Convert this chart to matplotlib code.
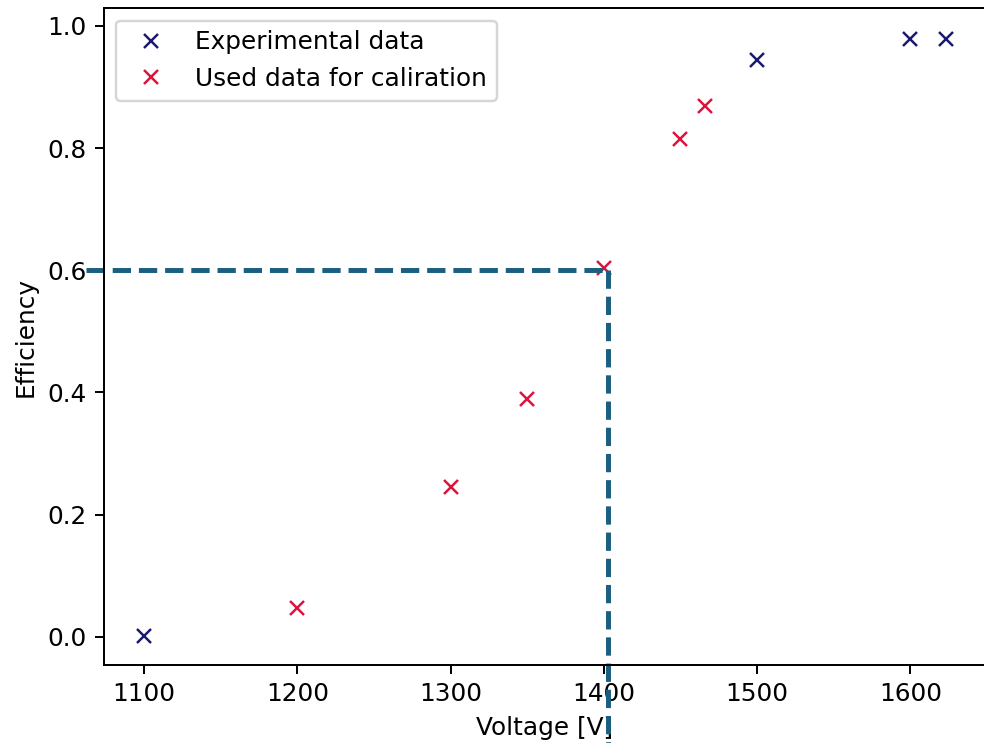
import numpy as np
import matplotlib
matplotlib.use('Agg')
import matplotlib.pyplot as plt

# experimental points (not used for calibration)
exp_voltage = [1100, 1500, 1600, 1623]
exp_eff = [0.002, 0.944, 0.978, 0.978]

# points used for the calibration
cal_voltage = [1200, 1300, 1350, 1400, 1450, 1466]
cal_eff = [0.047, 0.245, 0.390, 0.604, 0.815, 0.869]

target_eff = 0.6
target_voltage = 1403

fig = plt.figure(figsize=(984/178, 743/178), dpi=178)
ax = fig.add_axes([0.1057, 0.105, 0.896, 0.884])

ax.plot(exp_voltage, exp_eff, 'x', color='midnightblue', label='Experimental data')
ax.plot(cal_voltage, cal_eff, 'x', color='crimson', label='Used data for caliration')

ax.set_xlim(1073.8, 1649.2)
ax.set_ylim(-0.046, 1.029)

# working point lines, allowed to run outside the axes
ax.plot([1062, target_voltage], [target_eff, target_eff], '--', color='#1a5e80', lw=2, clip_on=False)
ax.plot([target_voltage, target_voltage], [target_eff, -0.2], '--', color='#1a5e80', lw=2, clip_on=False)

ax.set_xlabel('Voltage [V]')
ax.set_ylabel('Efficiency')
ax.legend(loc='upper left')

fig.savefig('out.png', dpi=178)
